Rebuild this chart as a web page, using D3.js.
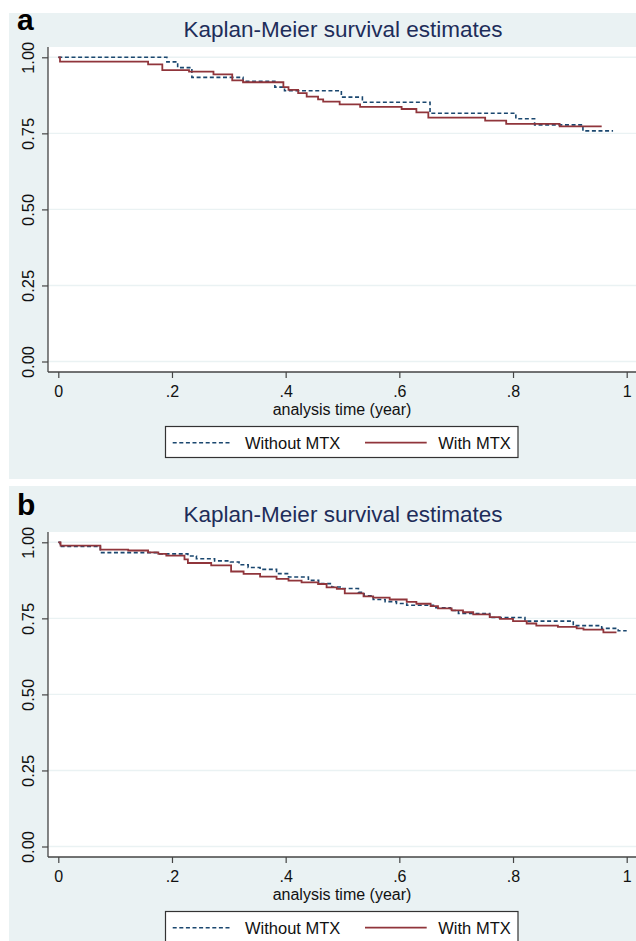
<!DOCTYPE html>
<html><head><meta charset="utf-8">
<script src="https://cdn.jsdelivr.net/npm/d3@7"></script>
<style>body{margin:0;background:#fff} svg{display:block}</style>
</head><body><svg id="c" width="636" height="941"></svg>
<script>
// ---- data ----
const xTicks = [0, 0.2, 0.4, 0.6, 0.8, 1];
const yTicks = [0, 0.25, 0.5, 0.75, 1];
const seriesNames = ["Without MTX", "With MTX"];
const panelLabels = ["a", "b"];
const titleText = "Kaplan-Meier survival estimates";
const xTitle = "analysis time (year)";

// panel a
const aWithoutTime = [0, 0.191, 0.21, 0.235, 0.325, 0.381, 0.398, 0.498, 0.535, 0.654, 0.805, 0.838, 0.923, 0.976];
const aWithoutSurv = [1.0, 0.985, 0.966, 0.934, 0.921, 0.902, 0.89, 0.869, 0.852, 0.816, 0.798, 0.778, 0.758, 0.758];
const aWithTime = [0, 0.003, 0.158, 0.183, 0.23, 0.273, 0.306, 0.325, 0.396, 0.405, 0.422, 0.437, 0.457, 0.466, 0.495, 0.531, 0.604, 0.63, 0.651, 0.751, 0.788, 0.882, 0.956];
const aWithSurv = [1.0, 0.986, 0.977, 0.958, 0.953, 0.944, 0.924, 0.918, 0.902, 0.893, 0.882, 0.871, 0.862, 0.854, 0.845, 0.837, 0.830, 0.819, 0.802, 0.792, 0.781, 0.773, 0.773];

// panel b
const bWithoutTime = [0, 0.003, 0.074, 0.176, 0.228, 0.243, 0.275, 0.303, 0.318, 0.334, 0.355, 0.384, 0.405, 0.44, 0.458, 0.481, 0.498, 0.528, 0.538, 0.554, 0.575, 0.595, 0.613, 0.66, 0.69, 0.704, 0.759, 0.821, 0.906, 0.956, 0.985, 1.0];
const bWithoutSurv = [1.0, 0.986, 0.966, 0.962, 0.955, 0.946, 0.939, 0.935, 0.926, 0.917, 0.911, 0.897, 0.886, 0.875, 0.864, 0.853, 0.848, 0.836, 0.824, 0.812, 0.805, 0.799, 0.793, 0.785, 0.776, 0.766, 0.753, 0.741, 0.726, 0.717, 0.709, 0.709];
const bWithTime = [0, 0.004, 0.074, 0.123, 0.158, 0.176, 0.19, 0.222, 0.228, 0.269, 0.304, 0.326, 0.355, 0.384, 0.405, 0.428, 0.457, 0.472, 0.490, 0.504, 0.537, 0.554, 0.583, 0.613, 0.630, 0.655, 0.668, 0.692, 0.712, 0.730, 0.759, 0.777, 0.800, 0.824, 0.841, 0.879, 0.912, 0.924, 0.959, 0.982];
const bWithSurv = [1.0, 0.989, 0.976, 0.973, 0.967, 0.962, 0.956, 0.944, 0.932, 0.924, 0.904, 0.896, 0.887, 0.880, 0.874, 0.868, 0.863, 0.852, 0.847, 0.832, 0.822, 0.818, 0.812, 0.804, 0.798, 0.790, 0.783, 0.776, 0.770, 0.763, 0.754, 0.748, 0.741, 0.733, 0.726, 0.722, 0.717, 0.713, 0.704, 0.704];

// ---- drawing ----
const svg = d3.select("#c");
const FONT = "'Liberation Sans', Arial, sans-serif";
const BG = "#eaf2f3";
const NAVY = "#1a476f";
const MAROON = "#90353b";

const panels = [
  { label: panelLabels[0], offset: 0, bgTop: 13, bgBottom: 479,
    series: [[aWithoutTime, aWithoutSurv], [aWithTime, aWithSurv]] },
  { label: panelLabels[1], offset: 485, bgTop: 486, bgBottom: 945,
    series: [[bWithoutTime, bWithoutSurv], [bWithTime, bWithSurv]] }
];

const styles = [
  { stroke: NAVY, width: 1.6, dash: "4,2.6" },
  { stroke: MAROON, width: 1.8, dash: null }
];

const fmtX = d => d === 0 ? "0" : d === 1 ? "1" : d3.format(".1f")(d).replace(/^0/, "");

panels.forEach(p => {
  const g = svg.append("g").attr("transform", `translate(0,${p.offset})`);
  const bgTop = p.bgTop - p.offset, bgBottom = p.bgBottom - p.offset;
  g.append("rect").attr("x", 9).attr("y", bgTop).attr("width", 627).attr("height", bgBottom - bgTop).attr("fill", BG);

  const plotL = 48, plotR = 636, plotT = 47, plotB = 372;
  g.append("rect").attr("x", plotL).attr("y", plotT).attr("width", plotR - plotL).attr("height", plotB - plotT).attr("fill", "#fff");

  const x = d3.scaleLinear().domain([0, 1]).range([58.3, 626.7]);
  const y = d3.scaleLinear().domain([0, 1]).range([361.5, 57.3]);

  // grid
  g.append("g").selectAll("line").data(yTicks).join("line")
    .attr("x1", plotL).attr("x2", plotR)
    .attr("y1", d => y(d)).attr("y2", d => y(d))
    .attr("stroke", BG).attr("stroke-width", 1.4);

  // curves
  const line = d3.line().curve(d3.curveStepAfter).x(d => x(d[0])).y(d => y(d[1]));
  p.series.forEach((s, i) => {
    const pts = s[0].map((t, k) => [t, s[1][k]]);
    const path = g.append("path").datum(pts).attr("d", line)
      .attr("fill", "none").attr("stroke", styles[i].stroke)
      .attr("stroke-width", styles[i].width);
    if (styles[i].dash) path.attr("stroke-dasharray", styles[i].dash);
  });

  // y axis
  const yAxis = g.append("g").attr("transform", `translate(${plotL},0)`)
    .call(d3.axisLeft(y).tickValues(yTicks).tickFormat(d3.format(".2f")).tickSize(6).tickSizeOuter(0));
  yAxis.select(".domain").remove();
  yAxis.selectAll(".tick line").attr("stroke", "#444").attr("stroke-width", 1.2);
  yAxis.selectAll(".tick text")
    .attr("font-family", FONT).attr("font-size", 16.5).attr("fill", "#111")
    .attr("x", null).attr("dy", null)
    .attr("text-anchor", "middle")
    .attr("transform", "translate(-14.5,0) rotate(-90)");
  g.append("line").attr("x1", plotL).attr("x2", plotL).attr("y1", plotT).attr("y2", plotB)
    .attr("stroke", "#444").attr("stroke-width", 1.3);

  // x axis
  const xAxis = g.append("g").attr("transform", `translate(0,${plotB})`)
    .call(d3.axisBottom(x).tickValues(xTicks).tickFormat(fmtX).tickSize(6).tickSizeOuter(0));
  xAxis.select(".domain").remove();
  xAxis.selectAll(".tick line").attr("stroke", "#444").attr("stroke-width", 1.2);
  xAxis.selectAll(".tick text")
    .attr("font-family", FONT).attr("font-size", 16).attr("fill", "#111")
    .attr("y", 25).attr("dy", null);
  g.append("line").attr("x1", plotL).attr("x2", plotR).attr("y1", plotB).attr("y2", plotB)
    .attr("stroke", "#444").attr("stroke-width", 1.3);

  g.append("text").attr("x", 342).attr("y", 415).attr("text-anchor", "middle")
    .attr("font-family", FONT).attr("font-size", 16).attr("fill", "#111").text(xTitle);

  // title
  g.append("text").attr("x", 343).attr("y", 36.5).attr("text-anchor", "middle")
    .attr("font-family", FONT).attr("font-size", 22.5).attr("fill", "#1e2d5a").text(titleText);

  // panel label
  g.append("text").attr("x", 17).attr("y", p.label === "a" ? 29.5 : 30)
    .attr("font-family", FONT).attr("font-weight", "bold").attr("font-size", 30).attr("fill", "#000").text(p.label);

  // legend
  const lg = g.append("g");
  lg.append("rect").attr("x", 165.5).attr("y", 426.5).attr("width", 352.5).attr("height", 31)
    .attr("fill", "#fff").attr("stroke", "#333").attr("stroke-width", 1.2);
  const legendItems = [
    { x1: 172.7, x2: 231.7, tx: 245 },
    { x1: 365, x2: 426.7, tx: 438.3 }
  ];
  legendItems.forEach((it, i) => {
    const l = lg.append("line").attr("x1", it.x1).attr("x2", it.x2).attr("y1", 442.7).attr("y2", 442.7)
      .attr("stroke", styles[i].stroke).attr("stroke-width", styles[i].width);
    if (styles[i].dash) l.attr("stroke-dasharray", styles[i].dash);
    lg.append("text").attr("x", it.tx).attr("y", 449.3)
      .attr("font-family", FONT).attr("font-size", 16.5).attr("fill", "#111").text(seriesNames[i]);
  });
});
</script></body></html>
